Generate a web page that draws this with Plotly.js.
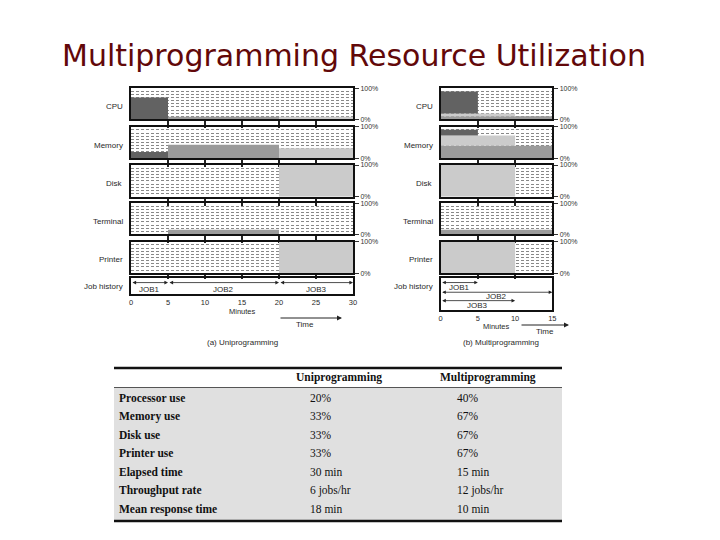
<!DOCTYPE html>
<html><head><meta charset="utf-8">
<script src="https://cdn.plot.ly/plotly-3.0.1.min.js"></script>
<style>html,body{margin:0;padding:0;background:#fff}#chart{width:720px;height:540px}</style>
</head><body><div id="chart"></div>
<script>
// ---------------- data ----------------
const jobs = ['JOB1', 'JOB2', 'JOB3'];
const resources = ['CPU', 'Memory', 'Disk', 'Terminal', 'Printer'];
const historyLabel = 'Job history';
const panelTitles = ['(a) Uniprogramming', '(b) Multiprogramming'];
const axisTitle = 'Minutes';
const timeLabel = 'Time';
const mainTitle = 'Multiprogramming Resource Utilization';

// job run intervals (minutes)
const uniStart = [0, 5, 20];
const uniEnd = [5, 20, 30];
const multiStart = [0, 0, 0];
const multiEnd = [5, 15, 10];
const uniTicks = [0, 5, 10, 15, 20, 25, 30];
const multiTicks = [0, 5, 10, 15];

// % of each resource used by JOB1, JOB2, JOB3 – uniprogramming
const uniCPU = [70, 8, 8];
const uniMemory = [20, 43, 32];
const uniDisk = [0, 0, 100];
const uniTerminal = [0, 15, 0];
const uniPrinter = [0, 0, 100];
// % of each resource used by JOB1, JOB2, JOB3 – multiprogramming
const multiCPU = [71, 10, 9];
const multiMemory = [18, 40, 32];
const multiDisk = [0, 0, 100];
const multiTerminal = [0, 15, 0];
const multiPrinter = [0, 0, 100];

// comparison table
const tableHeader = ['Uniprogramming', 'Multiprogramming'];
const metrics = ['Processor use', 'Memory use', 'Disk use', 'Printer use', 'Elapsed time', 'Throughput rate', 'Mean response time'];
const uniValues = ['20%', '33%', '33%', '33%', '30 min', '6 jobs/hr', '18 min'];
const multiValues = ['40%', '67%', '67%', '67%', '15 min', '12 jobs/hr', '10 min'];

// ---------------- styling / layout ----------------
const W = 720, H = 540;
const px = v => v / W;
const py = v => 1 - v / H;
const jobColors = ['#626262', '#9b9b9b', '#cbcbcb'];
const stackOrder = [1, 2, 0];          // bottom -> top when jobs overlap in time
const rowsPx = [[88.3, 119.3], [126.7, 158.3], [165, 196.7], [203.3, 234.3], [241.7, 273.3]];
const SANS = 'Liberation Sans, Arial, sans-serif';
const SERIF = 'Liberation Serif, Times New Roman, serif';
const INK = '#2a2a2a';

const PANELS = [
  { x0: 131, x1: 353, range: [0, 30], start: uniStart, end: uniEnd, ticks: uniTicks,
    usage: [uniCPU, uniMemory, uniDisk, uniTerminal, uniPrinter], labelRight: 125,
    jobBox: [277.7, 294], arrowY: [0.70, 0.70, 0.70], labelY: [0.26, 0.26, 0.26],
    captionX: 242, minutesY: 311, timeArrow: [279, 342, 318], timeText: [305, 324] },
  { x0: 440.7, x1: 552.3, range: [0, 15], start: multiStart, end: multiEnd, ticks: multiTicks,
    usage: [multiCPU, multiMemory, multiDisk, multiTerminal, multiPrinter], labelRight: 435,
    jobBox: [277.7, 310], arrowY: [0.85, 0.55, 0.29], labelY: [0.71, 0.42, 0.14],
    captionX: 501, minutesY: 326.5, timeArrow: [520, 569, 325], timeText: [545, 331] }
];

const traces = [];
const layout = {
  width: W, height: H, margin: { l: 0, r: 0, t: 0, b: 0 },
  paper_bgcolor: '#fff', plot_bgcolor: 'rgba(0,0,0,0)',
  barmode: 'overlay', showlegend: false,
  font: { family: SANS, color: INK, size: 8 },
  title: { text: mainTitle, x: 354 / W, xanchor: 'center', y: py(55), yanchor: 'middle',
           font: { family: 'DejaVu Sans, sans-serif', size: 30, color: '#620809' } },
  annotations: [], shapes: []
};
const axName = (n, l) => l + 'axis' + (n === 1 ? '' : n);
const axRef = (n, l) => l + (n === 1 ? '' : n);

PANELS.forEach((P, pi) => {
  const inner = P.ticks.slice(1, -1);
  // resource rows
  resources.forEach((res, ri) => {
    const n = pi * 6 + ri + 1;
    const xa = axRef(n, 'x'), ya = axRef(n, 'y');
    const [top, bot] = rowsPx[ri];
    layout[axName(n, 'x')] = {
      domain: [px(P.x0), px(P.x1)], range: P.range, type: 'linear', anchor: ya,
      showline: true, mirror: true, linewidth: 2, linecolor: '#111',
      ticks: 'outside', tickmode: 'array', tickvals: inner, ticklen: ri < 4 ? 7 : 4,
      tickwidth: 1.2, tickcolor: '#222', showticklabels: false,
      showgrid: false, zeroline: false, fixedrange: true
    };
    layout[axName(n, 'y')] = {
      domain: [py(bot), py(top)], range: [0, 100], type: 'linear', anchor: xa, side: 'right',
      showline: true, mirror: true, linewidth: 2, linecolor: '#111',
      tickmode: 'linear', tick0: 0, dtick: 100, ticksuffix: '%',
      ticks: 'outside', ticklen: 4, tickwidth: 1, tickcolor: '#333',
      tickfont: { size: 7, color: '#333' },
      showgrid: false, zeroline: false, fixedrange: true,
      minor: { tickmode: 'linear', tick0: 0, dtick: 10, ticks: '', showgrid: true,
               griddash: '3px,2px', gridcolor: '#555', gridwidth: 0.7 }
    };
    // bars for each job
    const placed = [];
    stackOrder.forEach(j => {
      const u = P.usage[ri][j];
      if (!u) return;
      const s = P.start[j], e = P.end[j];
      let base = 0;
      placed.forEach(q => { if (q.s < e && s < q.e) base += q.u; });
      placed.push({ s, e, u });
      traces.push({ type: 'bar', x: [(s + e) / 2], y: [u], base: [base], width: [e - s],
        xaxis: xa, yaxis: ya, marker: { color: jobColors[j], line: { width: 0 } },
        hoverinfo: 'skip', showlegend: false });
    });
    layout.annotations.push({ xref: 'paper', yref: 'paper', x: px(P.labelRight), y: py((top + bot) / 2 + 2.5),
      xanchor: 'right', yanchor: 'middle', text: res, showarrow: false, font: { size: 8, color: INK } });
  });

  // job history row
  const n = pi * 6 + 6;
  const xa = axRef(n, 'x'), ya = axRef(n, 'y');
  layout[axName(n, 'x')] = {
    domain: [px(P.x0), px(P.x1)], range: P.range, type: 'linear', anchor: ya,
    showline: true, mirror: true, linewidth: 2, linecolor: '#111',
    ticks: '', tickmode: 'array', tickvals: P.ticks, showticklabels: true,
    tickfont: { size: 7.5, color: INK }, showgrid: false, zeroline: false, fixedrange: true
  };
  layout[axName(n, 'y')] = {
    domain: [py(P.jobBox[1]), py(P.jobBox[0])], range: [0, 1], anchor: xa,
    showline: true, mirror: true, linewidth: 2, linecolor: '#111',
    ticks: '', showticklabels: false, showgrid: false, zeroline: false, fixedrange: true
  };
  traces.push({ type: 'scatter', x: [P.range[0]], y: [0], xaxis: xa, yaxis: ya, mode: 'markers',
    marker: { opacity: 0 }, hoverinfo: 'skip', showlegend: false });
  jobs.forEach((job, j) => {
    const s = P.start[j], e = P.end[j];
    layout.annotations.push({ xref: xa, yref: ya, axref: xa, ayref: ya,
      x: e, y: P.arrowY[j], ax: s, ay: P.arrowY[j], text: '', showarrow: true,
      arrowside: 'end+start', arrowhead: 2, startarrowhead: 2, arrowsize: 0.9, startarrowsize: 0.9,
      arrowwidth: 0.8, arrowcolor: '#222', standoff: 0, startstandoff: 0 });
    layout.annotations.push({ xref: xa, yref: ya, x: (s + e) / 2, y: P.labelY[j], text: job,
      showarrow: false, xanchor: 'center', yanchor: 'middle', font: { size: 8, color: INK } });
  });
  layout.annotations.push({ xref: 'paper', yref: 'paper', x: px(P.labelRight), y: py(286.5),
    xanchor: 'right', yanchor: 'middle', text: historyLabel, showarrow: false, font: { size: 8, color: INK } });
  // axis title (Minutes)
  layout.annotations.push({ xref: xa + ' domain', yref: 'paper', x: 0.5, y: py(P.minutesY),
    xanchor: 'center', yanchor: 'middle', text: axisTitle, showarrow: false, font: { size: 7.5, color: INK } });

  // time arrow + caption
  const [tx0, tx1, ty] = P.timeArrow;
  layout.annotations.push({ xref: 'paper', yref: 'paper', x: px(tx1), y: py(ty), ax: tx0 - tx1, ay: 0,
    text: '', showarrow: true, arrowhead: 2, arrowsize: 1, arrowwidth: 1, arrowcolor: '#222' });
  layout.annotations.push({ xref: 'paper', yref: 'paper', x: px(P.timeText[0]), y: py(P.timeText[1]),
    text: timeLabel, showarrow: false, xanchor: 'center', yanchor: 'middle', font: { size: 8, color: INK } });
  layout.annotations.push({ xref: 'paper', yref: 'paper', x: px(P.captionX), y: py(342.5),
    text: panelTitles[pi], showarrow: false, xanchor: 'center', yanchor: 'middle', font: { size: 8, color: INK } });
});

// ---------------- table (text cells on an invisible row/column grid) ----------------
const T = { left: 114, right: 562, top: 366, bottom: 522, firstRow: 398.7, pitch: 18.55, headerRow: 378,
            colX: [5, 196, 343], headerX: [182, 326], rule1: 368, sep: 387.5, rule2: 521, fill: '#e0e0e0' };
const rowTop = -(T.firstRow - T.top) / T.pitch;
const rowBot = rowTop + (T.bottom - T.top) / T.pitch;
const headerPos = rowTop + (T.headerRow - T.top) / T.pitch;
layout.xaxis13 = { domain: [px(T.left), px(T.right)], range: [0, T.right - T.left], anchor: 'y13',
  visible: false, fixedrange: true };
layout.yaxis13 = { domain: [py(T.bottom), py(T.top)], range: [rowBot, rowTop], anchor: 'x13',
  visible: false, fixedrange: true };
const rowIdx = metrics.map((m, i) => i);
const tableFont = { family: SERIF, size: 11.5, color: '#111' };
[[metrics, 'bold'], [uniValues, 'normal'], [multiValues, 'normal']].forEach(([col, weight], c) => {
  traces.push({ type: 'scatter', mode: 'text', xaxis: 'x13', yaxis: 'y13',
    x: col.map(() => T.colX[c]), y: rowIdx, text: col, textposition: 'middle right',
    textfont: Object.assign({ weight: weight }, tableFont), cliponaxis: false,
    hoverinfo: 'skip', showlegend: false });
});
traces.push({ type: 'scatter', mode: 'text', xaxis: 'x13', yaxis: 'y13',
  x: T.headerX, y: tableHeader.map(() => headerPos), text: tableHeader, textposition: 'middle right',
  textfont: Object.assign({ weight: 'bold' }, tableFont), cliponaxis: false,
  hoverinfo: 'skip', showlegend: false });
layout.shapes.push(
  { type: 'rect', xref: 'paper', yref: 'paper', layer: 'below', x0: px(T.left), x1: px(T.right),
    y0: py(T.rule2), y1: py(T.sep), fillcolor: T.fill, line: { width: 0 } },
  { type: 'line', xref: 'paper', yref: 'paper', x0: px(T.left), x1: px(T.right), y0: py(T.rule1), y1: py(T.rule1), line: { color: '#111', width: 2.5 } },
  { type: 'line', xref: 'paper', yref: 'paper', x0: px(T.left), x1: px(T.right), y0: py(T.sep), y1: py(T.sep), line: { color: '#555', width: 1 } },
  { type: 'line', xref: 'paper', yref: 'paper', x0: px(T.left), x1: px(T.right), y0: py(T.rule2), y1: py(T.rule2), line: { color: '#111', width: 2.5 } }
);

Plotly.newPlot('chart', traces, layout, { displayModeBar: false, staticPlot: true });
</script></body></html>
